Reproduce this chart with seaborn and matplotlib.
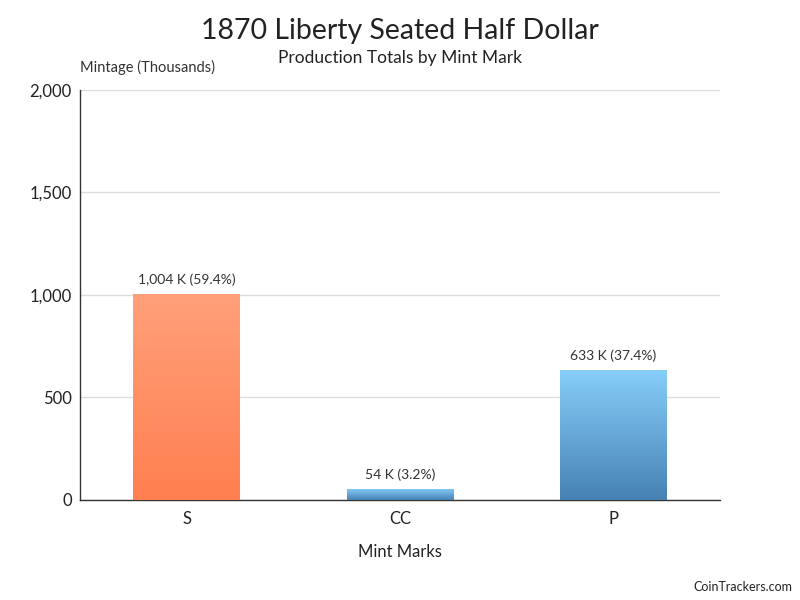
import numpy as np
import pandas as pd
import matplotlib
matplotlib.use('Agg')
import matplotlib.pyplot as plt
import matplotlib.colors as mcolors
import seaborn as sns

# Veriler
mint_marks = ['S', 'CC', 'P']
mintage_k = [1004, 54, 633]
percent = [59.4, 3.2, 37.4]
bar_labels = ['1,004 K (59.4%)', '54 K (3.2%)', '633 K (37.4%)']
y_ticks = [0, 500, 1000, 1500, 2000]
y_tick_labels = ['0', '500', '1,000', '1,500', '2,000']

# renk geçişleri (üst, alt)
gradients = [('#FFA07A', '#FF7F50'), ('#87CEFA', '#4682B4'), ('#87CEFA', '#4682B4')]

df = pd.DataFrame({'Mint': mint_marks, 'Mintage': mintage_k})

sns.set_style('white')
plt.rcParams['font.family'] = ['Lato', 'DejaVu Sans']

fig = plt.figure(figsize=(8, 6), dpi=100)
ax = fig.add_axes([0.1, 0.1667, 0.8, 0.6833])

sns.barplot(data=df, x='Mint', y='Mintage', ax=ax, width=0.5, color='white', zorder=3)

ax.set_ylim(0, 2000)
ax.set_xlim(-0.5, 2.5)

# Çubukları gradyan ile doldur
for patch, (top, bottom) in zip(ax.patches, gradients):
    x0, y0 = patch.get_x(), patch.get_y()
    w, h = patch.get_width(), patch.get_height()
    cmap = mcolors.LinearSegmentedColormap.from_list('g', [bottom, top])
    grad = np.linspace(0, 1, 256).reshape(-1, 1)
    im = ax.imshow(grad, extent=[x0, x0 + w, y0, y0 + h], origin='lower',
                   aspect='auto', cmap=cmap, zorder=3)
    im.set_clip_path(patch)
    patch.set_edgecolor('none')

# Değer etiketleri
for i, (v, lab) in enumerate(zip(mintage_k, bar_labels)):
    ax.text(i, v + 40, lab, ha='center', va='bottom', fontsize=10, color='#333333', zorder=4)

ax.set_yticks(y_ticks)
ax.set_yticklabels(y_tick_labels, fontsize=12, color='#222222')
ax.tick_params(axis='x', labelsize=12, colors='#222222', length=0, pad=8)
ax.tick_params(axis='y', length=0, pad=6)
ax.yaxis.grid(True, color='#DDDDDD', linewidth=1, zorder=0)
ax.set_axisbelow(True)

for s in ['top', 'right']:
    ax.spines[s].set_visible(False)
ax.spines['left'].set_color('#333333')
ax.spines['bottom'].set_color('#333333')
ax.spines['left'].set_linewidth(1)
ax.spines['bottom'].set_linewidth(1)

ax.set_xlabel('Mint Marks', fontsize=12, color='#222222', labelpad=12)
ax.set_ylabel('')

fig.text(0.5, 0.948, '1870 Liberty Seated Half Dollar', ha='center', va='center',
         fontsize=20.5, color='#222222')
fig.text(0.5, 0.903, 'Production Totals by Mint Mark', ha='center', va='center',
         fontsize=12.5, color='#222222')
fig.text(0.1, 0.887, 'Mintage (Thousands)', ha='left', va='center', fontsize=10.5, color='#333333')
fig.text(0.99, 0.022, 'CoinTrackers.com', ha='right', va='center', fontsize=9, color='#222222')

fig.savefig('out.png', dpi=100)
